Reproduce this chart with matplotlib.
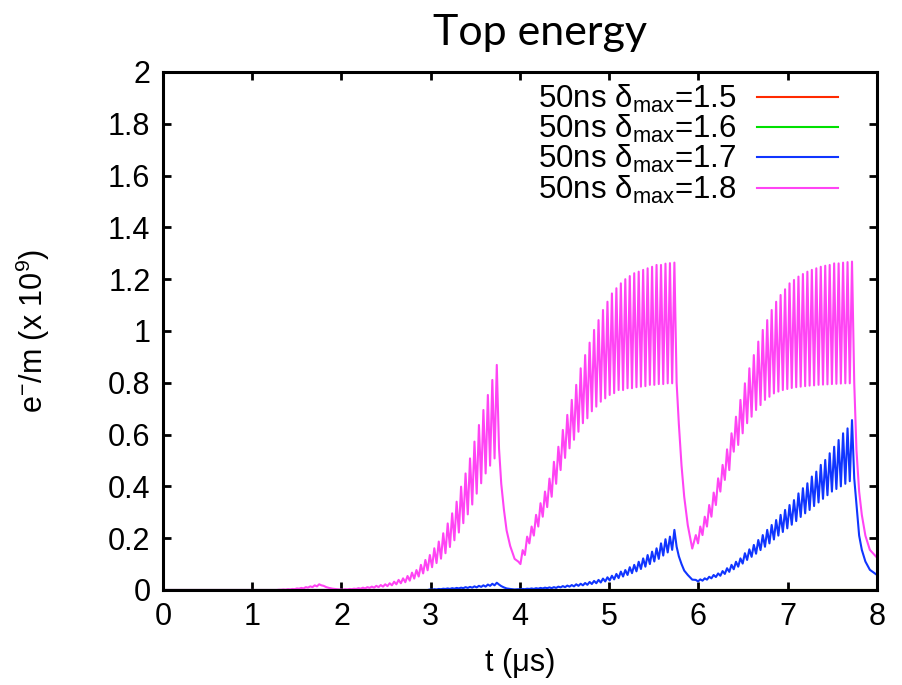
import matplotlib
matplotlib.use("Agg")
import matplotlib.pyplot as plt

plt.rcParams['font.family'] = ['Liberation Sans', 'DejaVu Sans']
plt.rcParams['mathtext.fontset'] = 'custom'
plt.rcParams['mathtext.rm'] = 'Liberation Sans'
plt.rcParams['mathtext.it'] = 'Liberation Sans:italic'

# bunch pattern: 4 trains of 36 bunches, 50 ns apart
bunch_spacing = 0.05
train_starts = [0.0, 1.99, 3.98, 5.97]
decay_offsets = [0.05, 0.08, 0.11, 0.15, 0.20]   # times after the last bunch of a train
tail_t = [8.0]

# ---- delta_max = 1.8 (magenta) ----
mag_peaks_1 = [0.0] * 26 + [0.001, 0.002, 0.003, 0.004, 0.006, 0.008, 0.011, 0.014, 0.018, 0.022]
mag_troughs_1 = [0.0] * 26 + [0.001, 0.001, 0.002, 0.003, 0.005, 0.006, 0.009, 0.011, 0.014, 0.018]
mag_decay_1 = [0.016, 0.011, 0.008, 0.005, 0.003]

mag_peaks_2 = [0.002, 0.003, 0.004, 0.005, 0.007, 0.009, 0.011, 0.013, 0.016, 0.019, 0.022, 0.026,
               0.032, 0.039, 0.045, 0.054, 0.067, 0.077, 0.097, 0.116, 0.135, 0.161, 0.187, 0.219,
               0.257, 0.296, 0.341, 0.399, 0.450, 0.508, 0.573, 0.637, 0.695, 0.753, 0.811, 0.869]
mag_troughs_2 = [0.001, 0.002, 0.003, 0.004, 0.005, 0.006, 0.008, 0.009, 0.011, 0.013, 0.015, 0.018,
                 0.022, 0.026, 0.030, 0.036, 0.044, 0.052, 0.064, 0.076, 0.088, 0.104, 0.121, 0.142,
                 0.166, 0.192, 0.222, 0.258, 0.292, 0.330, 0.372, 0.412, 0.450, 0.480, 0.508, 0.547]
mag_decay_2 = [0.41, 0.31, 0.23, 0.17, 0.12]

mag_peaks_3 = [0.110, 0.154, 0.206, 0.245, 0.290, 0.335, 0.380, 0.430, 0.495, 0.553, 0.618, 0.676,
               0.734, 0.792, 0.856, 0.907, 0.955, 1.004, 1.042, 1.081, 1.113, 1.145, 1.165, 1.184,
               1.200, 1.212, 1.223, 1.229, 1.236, 1.242, 1.248, 1.255, 1.255, 1.260, 1.262, 1.264]
mag_troughs_3 = [0.100, 0.135, 0.180, 0.210, 0.245, 0.283, 0.320, 0.360, 0.410, 0.463, 0.510, 0.547,
                 0.580, 0.611, 0.644, 0.663, 0.690, 0.708, 0.727, 0.740, 0.753, 0.760, 0.772, 0.772,
                 0.779, 0.779, 0.783, 0.785, 0.787, 0.792, 0.792, 0.795, 0.795, 0.798, 0.798, 0.800]
mag_decay_3 = [0.64, 0.48, 0.36, 0.25, 0.16]

mag_peaks_4 = [0.212, 0.245, 0.283, 0.328, 0.376, 0.431, 0.483, 0.543, 0.605, 0.669, 0.734, 0.798,
               0.856, 0.907, 0.959, 1.004, 1.042, 1.081, 1.113, 1.139, 1.161, 1.184, 1.197, 1.210,
               1.220, 1.229, 1.236, 1.242, 1.248, 1.252, 1.255, 1.261, 1.261, 1.264, 1.266, 1.268]
mag_troughs_4 = [0.180, 0.212, 0.245, 0.283, 0.328, 0.380, 0.425, 0.463, 0.534, 0.560, 0.605, 0.644,
                 0.669, 0.695, 0.714, 0.734, 0.746, 0.759, 0.766, 0.772, 0.776, 0.780, 0.783, 0.785,
                 0.787, 0.789, 0.790, 0.792, 0.793, 0.794, 0.795, 0.796, 0.797, 0.798, 0.798, 0.800]
mag_decay_4 = [0.54, 0.38, 0.29, 0.21, 0.155]
mag_tail = [0.125]

# ---- delta_max = 1.7 (blue) ----
blue_peaks_1 = [0.0] * 36
blue_troughs_1 = [0.0] * 36
blue_decay_1 = [0.0, 0.0, 0.0, 0.0, 0.0]

blue_peaks_2 = [0.0] * 20 + [0.002, 0.003, 0.004, 0.005, 0.006, 0.007, 0.008, 0.009, 0.011, 0.012,
                             0.014, 0.016, 0.018, 0.021, 0.024, 0.028]
blue_troughs_2 = [0.0] * 20 + [0.001, 0.002, 0.003, 0.004, 0.004, 0.005, 0.006, 0.007, 0.008, 0.009,
                               0.010, 0.012, 0.013, 0.016, 0.018, 0.021]
blue_decay_2 = [0.015, 0.010, 0.006, 0.004, 0.002]

blue_peaks_3 = [0.003, 0.004, 0.005, 0.006, 0.007, 0.008, 0.009, 0.010, 0.011, 0.013, 0.015, 0.017,
                0.019, 0.022, 0.024, 0.027, 0.031, 0.035, 0.039, 0.044, 0.049, 0.055, 0.062, 0.071,
                0.077, 0.088, 0.097, 0.109, 0.122, 0.135, 0.148, 0.161, 0.180, 0.196, 0.206, 0.232]
blue_troughs_3 = [0.002, 0.003, 0.004, 0.004, 0.005, 0.006, 0.007, 0.007, 0.008, 0.010, 0.011, 0.013,
                  0.014, 0.016, 0.018, 0.020, 0.023, 0.026, 0.029, 0.033, 0.037, 0.041, 0.046, 0.052,
                  0.058, 0.065, 0.072, 0.081, 0.090, 0.100, 0.110, 0.120, 0.133, 0.145, 0.155, 0.167]
blue_decay_3 = [0.13, 0.10, 0.075, 0.058, 0.040]

blue_peaks_4 = [0.039, 0.041, 0.045, 0.051, 0.058, 0.064, 0.073, 0.084, 0.097, 0.109, 0.122, 0.142,
                0.157, 0.174, 0.193, 0.212, 0.232, 0.251, 0.270, 0.290, 0.309, 0.328, 0.347, 0.373,
                0.393, 0.412, 0.438, 0.457, 0.483, 0.502, 0.528, 0.553, 0.579, 0.605, 0.624, 0.656]
blue_troughs_4 = [0.033, 0.036, 0.040, 0.045, 0.050, 0.055, 0.062, 0.070, 0.080, 0.090, 0.102, 0.116,
                  0.128, 0.140, 0.154, 0.167, 0.180, 0.195, 0.210, 0.224, 0.238, 0.252, 0.266, 0.282,
                  0.296, 0.309, 0.324, 0.338, 0.352, 0.366, 0.380, 0.390, 0.400, 0.410, 0.420, 0.431]
blue_decay_4 = [0.33, 0.21, 0.155, 0.11, 0.078]
blue_tail = [0.058]

# ---- delta_max = 1.5 / 1.6 stay at zero ----
zero_t = [0.0, 8.0]
zero_v = [0.0, 0.0]

labels = ['50ns δ$_{\\mathrm{max}}$=1.5', '50ns δ$_{\\mathrm{max}}$=1.6',
          '50ns δ$_{\\mathrm{max}}$=1.7', '50ns δ$_{\\mathrm{max}}$=1.8']
colors = ['#ff2a00', '#00e000', '#1035ff', '#ff44f4']

xticks = [0, 1, 2, 3, 4, 5, 6, 7, 8]
yticks = [0, 0.2, 0.4, 0.6, 0.8, 1.0, 1.2, 1.4, 1.6, 1.8, 2.0]
ytick_labels = ['0', '0.2', '0.4', '0.6', '0.8', '1', '1.2', '1.4', '1.6', '1.8', '2']


def build(peaks, troughs, decays, tail):
    t, v = [], []
    for start, pk, tr, dc in zip(train_starts, peaks, troughs, decays):
        for k in range(len(pk)):
            tb = start + k * bunch_spacing
            t += [tb, tb + bunch_spacing / 2]
            v += [pk[k], tr[k]]
        last = start + (len(pk) - 1) * bunch_spacing
        t += [last + d for d in decay_offsets]
        v += dc
    return t + tail_t, v + tail


mag_t, mag_v = build([mag_peaks_1, mag_peaks_2, mag_peaks_3, mag_peaks_4],
                     [mag_troughs_1, mag_troughs_2, mag_troughs_3, mag_troughs_4],
                     [mag_decay_1, mag_decay_2, mag_decay_3, mag_decay_4], mag_tail)
blue_t, blue_v = build([blue_peaks_1, blue_peaks_2, blue_peaks_3, blue_peaks_4],
                       [blue_troughs_1, blue_troughs_2, blue_troughs_3, blue_troughs_4],
                       [blue_decay_1, blue_decay_2, blue_decay_3, blue_decay_4], blue_tail)

fig = plt.figure(figsize=(9.03, 6.85), dpi=100)
ax = fig.add_axes([0.1805, 0.1387, 0.7907, 0.7562])

ax.plot(zero_t, zero_v, color=colors[0], lw=1.5, label=labels[0])
ax.plot(zero_t, zero_v, color=colors[1], lw=1.5, label=labels[1])
ax.plot(blue_t, blue_v, color=colors[2], lw=1.5, label=labels[2])
ax.plot(mag_t, mag_v, color=colors[3], lw=1.5, label=labels[3])

ax.set_xlim(0, 8)
ax.set_ylim(0, 2)
ax.set_xticks(xticks)
ax.set_xticklabels([str(x) for x in xticks])
ax.set_yticks(yticks)
ax.set_yticklabels(ytick_labels)
ax.tick_params(direction='in', length=6, width=2, labelsize=22, pad=9,
               top=True, right=True)
for s in ax.spines.values():
    s.set_linewidth(2.2)

ax.set_xlabel('t (μs)', fontsize=22)
ax.xaxis.set_label_coords(0.5, -0.112)
ax.set_ylabel('e$^{-}$/m (x 10$^{9}$)', fontsize=22)
ax.yaxis.set_label_coords(-0.155, 0.5)

ax.legend(loc='upper right', bbox_to_anchor=(0.9454, 0.979), frameon=False,
          markerfirst=False, fontsize=22.5, handlelength=2.6, handletextpad=0.64,
          labelspacing=-0.06, borderaxespad=0, borderpad=0)

fig.text(0.598, 0.934, 'Top energy', family='Lato', fontsize=31,
         ha='center', va='baseline')

fig.savefig('out.png', dpi=100)
